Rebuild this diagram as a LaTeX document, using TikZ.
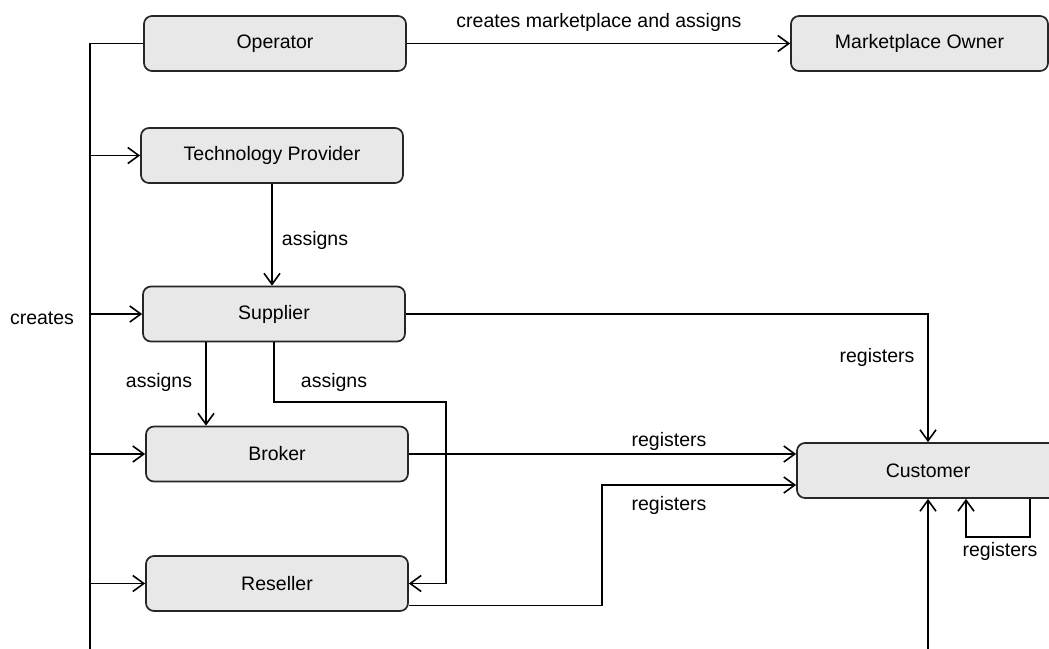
\documentclass[tikz,border=0pt]{standalone}
\usepackage{fontspec}
\setmainfont{Liberation Sans}
\usetikzlibrary{arrows.meta,calc}
\begin{document}
\begin{tikzpicture}[x=1pt,y=-1pt,
  box/.style={draw=black!85,line width=1.7pt,rounded corners=8pt,fill=black!9,
    minimum width=262pt,minimum height=55pt,inner sep=0pt,
    font=\fontsize{19.5}{22}\selectfont},
  conn/.style={line width=1.6pt,black},
  arr/.style={conn,-{Straight Barb[length=11pt,width=16pt,line width=1.6pt]}},
  lab/.style={font=\fontsize{19.5}{22}\selectfont,inner sep=0pt}]
\useasboundingbox (0,0) rectangle (1049,648);
\clip (0,0) rectangle (1049,648);
% nodes
\node[box] (op)  at (275,43.5) {Operator};
\node[box,minimum width=257pt] (mo) at (919.5,43.5) {Marketplace Owner};
\node[box] (tp)  at (272,155.5) {Technology Provider};
\node[box] (sup) at (274,314) {Supplier};
\node[box] (bro) at (277,454) {Broker};
\node[box] (res) at (277,583.5) {Reseller};
\node[box] (cus) at (928,470.5) {Customer};
% coordinates
\coordinate (trunkTop) at (90,43.5);
\coordinate (trunkBot) at (90,660);
\coordinate (sr) at (446,402);
\coordinate (rc) at (602,485);
\coordinate (cusBot) at (928,660);
% trunk
\draw[conn] (op.west) -- (trunkTop) -- (trunkBot);
\draw[arr] (tp.west -| trunkTop) -- (tp.west);
\draw[arr] (sup.west -| trunkTop) -- (sup.west);
\draw[arr] (bro.west -| trunkTop) -- (bro.west);
\draw[arr] (res.west -| trunkTop) -- (res.west);
\node[lab] (lcreates) at (42,318) {creates};
% operator -> marketplace owner
\draw[arr] (op.east) -- (mo.west);
\node[lab] (lcma) at (599,22) {creates marketplace and assigns};
% technology provider -> supplier
\draw[arr] (tp.south) -- (tp.south |- sup.north);
\node[lab] (la1) at (315,240) {assigns};
% supplier -> customer
\draw[arr] (sup.east) -| (cus.north);
\node[lab] (lr1) at (877,357) {registers};
% supplier -> broker
\draw[arr] ([xshift=-68pt]sup.south) -- ([xshift=-68pt]sup.south |- bro.north);
\node[lab] (la2) at (159,382) {assigns};
% supplier -> reseller
\draw[arr] (sup.south) |- (sr) |- (res.east);
\node[lab] (la3) at (334,382) {assigns};
% broker -> customer
\draw[arr] (bro.east) -- (bro.east -| cus.west);
\node[lab] (lr2) at (669,441) {registers};
% reseller -> customer
\draw[arr] ([yshift=-22pt]res.east) -| (rc) -- (rc -| cus.west);
\node[lab] (lr3) at (669,505) {registers};
% self loop
\draw[arr] ([xshift=102pt]cus.south) -- ++(0,38) -| ([xshift=38pt]cus.south);
\node[lab] (lr4) at (1000,551) {registers};
% from below
\draw[arr] (cusBot) -- (cus.south);
\end{tikzpicture}
\end{document}
